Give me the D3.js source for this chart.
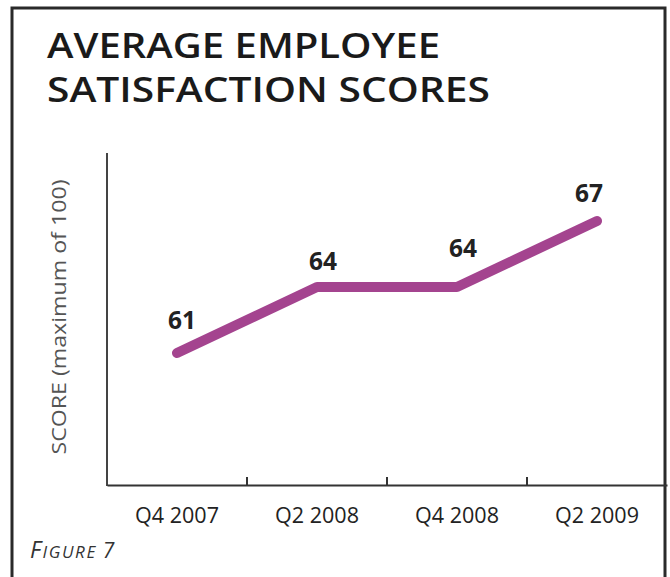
<!DOCTYPE html>
<html><head><meta charset="utf-8">
<script src="https://cdn.jsdelivr.net/npm/d3@7"></script>
<style>body{margin:0;background:#fff}svg{display:block}</style>
</head><body>
<svg id="c" width="670" height="577"></svg>
<script>
const categories = ["Q4 2007", "Q2 2008", "Q4 2008", "Q2 2009"];
const scores = [61, 64, 64, 67];
const labels = ["61", "64", "64", "67"];

const svg = d3.select("#c");
// frame
svg.append("path").attr("d", "M12,580 V8 H665 V580").attr("fill","none").attr("stroke","#2a2a2a").attr("stroke-width",3);

svg.append("text").attr("x",47).attr("y",58).attr("font-family","Open Sans, sans-serif").attr("font-weight",600)
  .attr("font-size",35).attr("fill","#1a1a1a").attr("textLength",393).attr("lengthAdjust","spacingAndGlyphs").text("AVERAGE EMPLOYEE");
svg.append("text").attr("x",47).attr("y",102).attr("font-family","Open Sans, sans-serif").attr("font-weight",600)
  .attr("font-size",35).attr("fill","#1a1a1a").attr("textLength",443).attr("lengthAdjust","spacingAndGlyphs").text("SATISFACTION SCORES");

const x = d3.scaleBand().domain(categories).range([107, 667]);
const y = d3.scaleLinear().domain([55, 70]).range([485, 155]);

// axes
svg.append("line").attr("x1",107).attr("x2",107).attr("y1",153).attr("y2",486).attr("stroke","#444").attr("stroke-width",2);
const xa = svg.append("g").attr("transform","translate(0,485)")
  .call(d3.axisBottom(x).tickSize(0).tickPadding(22));
xa.select(".domain").attr("stroke","#333").attr("stroke-width",2);
xa.selectAll("text").attr("font-family","Open Sans, sans-serif").attr("font-size",22).attr("fill","#222")
  .attr("textLength",84).attr("lengthAdjust","spacingAndGlyphs");
categories.slice(1).forEach(c=>{
  svg.append("line").attr("x1",x(c)).attr("x2",x(c)).attr("y1",477).attr("y2",485).attr("stroke","#333").attr("stroke-width",2);
});

svg.append("text").attr("transform","translate(66,317) rotate(-90)").attr("text-anchor","middle")
  .attr("font-family","Open Sans, sans-serif").attr("font-size",20).attr("fill","#555")
  .attr("textLength",275).attr("lengthAdjust","spacingAndGlyphs").text("SCORE (maximum of 100)");

const line = d3.line().x((d,i)=>x(categories[i])+x.bandwidth()/2).y(d=>y(d));
svg.append("path").datum(scores).attr("d",line).attr("fill","none").attr("stroke","#a4448f")
  .attr("stroke-width",10).attr("stroke-linecap","round").attr("stroke-linejoin","round");

const dx = [5, 6, 6, -8], dy = [-24, -17, -30, -19];
svg.selectAll(".lbl").data(scores).join("text").attr("class","lbl")
  .attr("x",(d,i)=>x(categories[i])+x.bandwidth()/2+dx[i]).attr("y",(d,i)=>y(d)+dy[i])
  .attr("text-anchor","middle").attr("font-family","Open Sans, sans-serif")
  .attr("font-weight","bold").attr("font-size",25).attr("fill","#222")
  .attr("textLength",28).attr("lengthAdjust","spacingAndGlyphs").text((d,i)=>labels[i]);

const fig = svg.append("text").attr("x",30).attr("y",558).attr("font-family","Open Sans, sans-serif")
  .attr("font-style","italic").attr("fill","#333").attr("letter-spacing",1.6);
fig.append("tspan").attr("font-size",23).text("F");
fig.append("tspan").attr("font-size",17).text("IGURE ");
fig.append("tspan").attr("font-size",21).text("7");
</script>
</body></html>
